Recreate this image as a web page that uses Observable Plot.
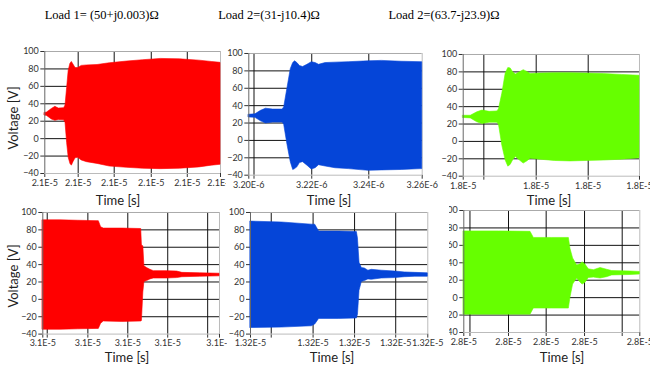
<!DOCTYPE html>
<html><head><meta charset="utf-8">
<script src="https://cdn.jsdelivr.net/npm/d3@7"></script>
<script src="https://cdn.jsdelivr.net/npm/@observablehq/plot@0.6"></script>
<style>
body{margin:0;background:#fff;}
#root{position:relative;width:650px;height:367px;overflow:hidden;background:#fff;}
.panel{position:absolute;overflow:hidden;}
#overlay{position:absolute;left:0;top:0;pointer-events:none;}
</style></head>
<body><div id="root"></div>
<script>
// ---------- text ----------
const titles = ["Load 1= (50+j0.003)\u03A9", "Load 2=(31-j10.4)\u03A9", "Load 2=(63.7-j23.9)\u03A9"];
const xTitle = "Time [s]";
const yTitle = "Voltage [V]";
const yTicks = [-40, -20, 0, 20, 40, 60, 80, 100];

// ---------- panel 1 (Load 1, turn-on) : time as % of window ----------
const p1Ticks = [0, 19, 39.5, 60.6, 81.1, 100];
const p1TickLabels = ["2.1E-5", "2.1E-5", "2.1E-5", "2.1E-5", "2.1E-5", "2.1E-5"];
const p1Time  = [0, 1.3, 4, 6, 8, 11, 11.8, 12.7, 13.6, 14.6, 15.4, 16.3, 17.5, 19, 21, 24, 30, 37, 47, 56, 66, 77, 88, 95, 100];
const p1Upper = [29.5, 30, 34, 36.5, 34.5, 35, 38, 58, 78, 86, 88, 85, 81, 81, 83.5, 84, 84.5, 86.5, 88.5, 90, 91.5, 91, 89.5, 88, 87];
const p1Lower = [26.5, 26, 22, 20.5, 21.5, 21, 18, -5, -22, -29, -31, -27, -22.5, -22, -25, -27, -29, -32, -33.5, -34.5, -35, -34.5, -33, -31, -30];

// ---------- panel 2 (Load 2, turn-on) ----------
const p2Ticks = [0, 3, 36.3, 69.2, 100];
const p2TickLabels = ["3.20E-6", "", "3.22E-6", "3.24E-6", "3.26E-6"];
const p2Time  = [0, 3.8, 7, 9.9, 14, 19.5, 20.4, 22.3, 24.2, 25.6, 26.7, 28, 29.5, 31.3, 33.8, 36.3, 38.5, 40.5, 44.3, 50, 57.6, 69.1, 76.7, 88.2, 100];
const p2Upper = [29.5, 30, 34, 36.5, 35.5, 35.5, 38, 60, 82, 89, 91, 89, 85.5, 84.5, 87, 90, 89, 87, 89, 89.5, 90, 91, 91.5, 90.5, 90];
const p2Lower = [26.5, 26, 22, 19.5, 20.5, 20.5, 18, -5, -25, -34, -33, -31, -26, -25, -29, -33.5, -32, -28.5, -30, -32, -33, -35, -34.5, -34, -33];

// ---------- panel 3 (Load 3, turn-on) ----------
const p3Ticks = [0, 11.7, 41.4, 70.9, 100];
const p3TickLabels = ["1.8E-5", "", "1.8E-5", "1.8E-5", "1.8E-5"];
const p3Time  = [0, 4.3, 8, 10.9, 15, 19.4, 20.3, 22.2, 24.1, 25.6, 26.9, 28.5, 29.9, 32.2, 34.3, 36.3, 38.2, 43.9, 52, 60.8, 70, 79.7, 90, 100];
const p3Upper = [29.5, 29.5, 33.5, 35.5, 34, 34.5, 37, 55, 78, 84.5, 84, 79, 77, 79.5, 82, 80, 77.5, 78, 78.5, 78.5, 78, 77.5, 76.5, 75.5];
const p3Lower = [27, 26.5, 22, 20, 21.5, 21.5, 19, -5, -22, -29, -27, -21, -18, -22, -25.5, -23, -20, -21, -22.5, -23, -22.5, -22, -21, -19.5];

// ---------- panel 4 (Load 1, turn-off) ----------
const p4Ticks = [0, 2.5, 25.5, 48.1, 70.7, 93.3, 100];
const p4TickLabels = ["3.1E-5", "", "3.1E-5", "3.1E-5", "3.1E-5", "", "3.1E-5"];
const p4Time  = [0, 10, 20, 31.7, 33, 34.5, 45, 55.7, 56.1, 56.9, 57.5, 59, 60.9, 62.8, 70, 76, 79, 89, 100];
const p4Upper = [91, 91, 90.5, 90, 83, 81.5, 81.5, 81, 62, 61, 38, 36, 34, 32.5, 32.5, 32, 30.5, 30, 29.5];
const p4Lower = [-35, -35, -34.5, -34, -28, -25.5, -26, -25.5, -25, 8, 20, 21, 23, 24, 24, 24.5, 25.5, 26, 26.5];

// ---------- panel 5 (Load 2, turn-off) ----------
const p5Ticks = [0, 11.7, 35.3, 58.7, 81.9, 100];
const p5TickLabels = ["1.32E-5", "", "1.32E-5", "1.32E-5", "1.32E-5", "1.32E-5"];
const p5Time  = [0, 17.7, 34.6, 36.5, 38.7, 50, 60, 60.6, 61.5, 62.8, 64.5, 66.5, 68.4, 74, 81.6, 87, 93, 100];
const p5Upper = [89.5, 88.5, 86, 86, 78, 78, 77.5, 70, 42, 36, 35.5, 33, 34, 33, 32, 31, 30.5, 30];
const p5Lower = [-33, -32.5, -31, -29, -22.5, -22.5, -22, -18, 10, 20, 21, 23, 22.5, 24, 24.5, 25.5, 26, 26];

// ---------- panel 6 (Load 3, turn-off) ----------
const p6Ticks = [0, 3.5, 25.4, 46.8, 68.6, 90, 100];
const p6TickLabels = ["2.8E-5", "", "2.8E-5", "2.8E-5", "2.8E-5", "", "2.8E-5"];
const p6Time  = [0, 20, 37.9, 39.8, 50, 59.7, 60.6, 62.1, 64.4, 66, 67.5, 69.1, 71, 73.9, 77.7, 81.4, 84.3, 94.7, 100];
const p6Upper = [76, 76, 75.5, 68.5, 68.5, 68.5, 56, 45, 37, 38, 40.5, 38, 32.5, 31.5, 34, 32, 30.5, 30, 29.5];
const p6Lower = [-19.5, -19.5, -19.5, -12.5, -12.5, -12.5, 0, 15, 22, 18, 15, 17, 22.5, 23, 22, 23.5, 25.5, 26, 26.5];

const colors = ["#ff0000", "#0545d8", "#66ff00"];

// ---------- layout (pixels) ----------
const panels = [
  {time: p1Time, upper: p1Upper, lower: p1Lower, ticks: p1Ticks, labels: p1TickLabels, color: colors[0],
   frame: {x0: 44.3, x1: 220, y0: 50.7, y1: 172.7}, clip: {l: 18, r: 226}},
  {time: p2Time, upper: p2Upper, lower: p2Lower, ticks: p2Ticks, labels: p2TickLabels, color: colors[1],
   frame: {x0: 248.3, x1: 421.7, y0: 53.3, y1: 175}, clip: {l: 226, r: 446}},
  {time: p3Time, upper: p3Upper, lower: p3Lower, ticks: p3Ticks, labels: p3TickLabels, color: colors[2],
   frame: {x0: 462.7, x1: 639, y0: 54, y1: 175.7}, clip: {l: 440, r: 650}},
  {time: p4Time, upper: p4Upper, lower: p4Lower, ticks: p4Ticks, labels: p4TickLabels, color: colors[0],
   frame: {x0: 42.3, x1: 219, y0: 211.7, y1: 333.3}, clip: {l: 18, r: 227}},
  {time: p5Time, upper: p5Upper, lower: p5Lower, ticks: p5Ticks, labels: p5TickLabels, color: colors[1],
   frame: {x0: 250, x1: 427.3, y0: 211.7, y1: 333.3}, clip: {l: 227, r: 448}},
  {time: p6Time, upper: p6Upper, lower: p6Lower, ticks: p6Ticks, labels: p6TickLabels, color: colors[2],
   frame: {x0: 463.3, x1: 639.3, y0: 210.3, y1: 332.3}, clip: {l: 449, r: 650}}
];

const root = document.getElementById("root");
const mT = 6, mB = 20;

for (const p of panels) {
  const data = p.time.map((t, i) => ({t, hi: p.upper[i], lo: p.lower[i]}));
  const labelOf = new Map(p.ticks.map((t, i) => [t, p.labels[i]]));
  const mL = p.frame.x0 - p.clip.l, mR = p.clip.r - p.frame.x1;
  const width = p.clip.r - p.clip.l;
  const height = (p.frame.y1 - p.frame.y0) + mT + mB;
  const chart = Plot.plot({
    width, height, marginLeft: mL, marginRight: mR, marginTop: mT, marginBottom: mB,
    style: {background: "transparent", fontFamily: "Lato, sans-serif", fontSize: "9px", color: "#333", overflow: "hidden"},
    x: {domain: [0, 100], ticks: p.ticks, tickFormat: d => labelOf.get(d) ?? "", tickSize: 4, tickPadding: 2, label: null},
    y: {domain: [-40, 100], ticks: yTicks, tickSize: 4, tickPadding: 2, label: null},
    marks: [
      Plot.ruleY(yTicks.filter(v => v > -40 && v < 100), {stroke: "#111", strokeWidth: 1}),
      Plot.ruleX(p.ticks.filter(t => t > 0 && t < 100), {stroke: "#111", strokeWidth: 1}),
      Plot.ruleY([100], {stroke: "#aaa"}),
      Plot.ruleX([100], {stroke: "#bbb"}),
      Plot.areaY(data, {x: "t", y1: "lo", y2: "hi", fill: p.color, stroke: p.color, strokeWidth: 0.6}),
      Plot.ruleY([-40], {stroke: "#bbb"}),
      Plot.ruleX([0], {stroke: "#666"})
    ]
  });
  const div = document.createElement("div");
  div.className = "panel";
  div.style.left = p.clip.l + "px";
  div.style.top = (p.frame.y0 - mT) + "px";
  div.style.width = width + "px";
  div.style.height = height + "px";
  div.appendChild(chart);
  root.appendChild(div);
}

// ---------- overlay texts ----------
const svg = d3.select(root).append("svg").attr("id", "overlay").attr("width", 650).attr("height", 367);
const titleX = [101.7, 269, 444];
titles.forEach((t, i) => {
  svg.append("text").attr("x", titleX[i]).attr("y", 19).attr("text-anchor", "middle")
    .attr("font-family", "'Liberation Serif', serif").attr("font-size", 12.5).attr("fill", "#000").text(t);
});
const timePos = [[118, 205], [329, 205], [549, 205], [127, 362], [332, 362], [562, 362]];
timePos.forEach(([x, y]) => {
  svg.append("text").attr("x", x).attr("y", y).attr("text-anchor", "middle")
    .attr("font-family", "Lato, sans-serif").attr("font-size", 13).attr("fill", "#222").text(xTitle);
});
[[13, 118], [13, 276]].forEach(([x, y]) => {
  svg.append("text").attr("transform", `translate(${x},${y}) rotate(-90)`).attr("text-anchor", "middle")
    .attr("dominant-baseline", "central")
    .attr("font-family", "Lato, sans-serif").attr("font-size", 13).attr("fill", "#222").text(yTitle);
});
</script>
</body></html>
